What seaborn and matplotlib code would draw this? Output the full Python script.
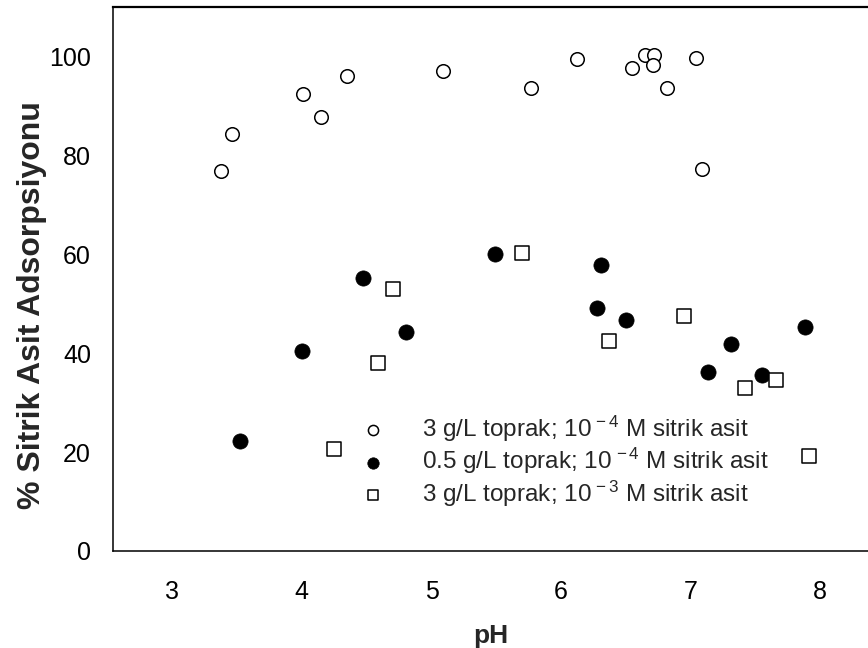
import matplotlib
matplotlib.use("Agg")
import matplotlib.pyplot as plt
import seaborn as sns
import pandas as pd

# 3 g/L toprak; 1e-4 M sitrik asit (open circles)
ph_a = [3.38, 3.46, 4.01, 4.15, 4.35, 5.09, 5.77, 6.12, 6.545, 6.65, 6.72, 6.71, 6.82, 7.04, 7.09]
ads_a = [76.7, 84.2, 92.4, 87.7, 95.9, 97.0, 93.5, 99.4, 97.6, 100.3, 100.3, 98.3, 93.5, 99.7, 77.1]

# 0.5 g/L toprak; 1e-4 M sitrik asit (filled circles)
ph_b = [3.52, 4.00, 4.47, 4.80, 5.49, 6.28, 6.31, 6.50, 7.13, 7.31, 7.55, 7.88]
ads_b = [22.2, 40.5, 55.1, 44.3, 60.1, 49.2, 57.8, 46.6, 36.1, 41.8, 35.6, 45.3]

# 3 g/L toprak; 1e-3 M sitrik asit (open squares)
ph_c = [4.25, 4.59, 4.70, 5.70, 6.37, 6.95, 7.42, 7.66, 7.91]
ads_c = [20.6, 37.9, 52.9, 60.2, 42.5, 47.5, 32.9, 34.5, 19.2]

labels = [
    "3 g/L toprak; 10$^{\\,-4}$ M sitrik asit",
    "0.5 g/L toprak; 10$^{\\,-4}$ M sitrik asit",
    "3 g/L toprak; 10$^{\\,-3}$ M sitrik asit",
]
x_ticks = [3, 4, 5, 6, 7, 8]
y_ticks = [0, 20, 40, 60, 80, 100]

sns.set_style("white")
plt.rcParams["font.family"] = ["Liberation Sans", "DejaVu Sans"]
plt.rcParams["mathtext.fontset"] = "custom"
plt.rcParams["mathtext.rm"] = "Liberation Sans"
plt.rcParams["mathtext.it"] = "Liberation Sans"

fig = plt.figure(figsize=(8.68, 6.48), dpi=100)
ax = fig.add_axes([0.1305, 0.1497, 0.8695, 0.8400])

df_a = pd.DataFrame({"pH": ph_a, "ads": ads_a})
df_b = pd.DataFrame({"pH": ph_b, "ads": ads_b})
df_c = pd.DataFrame({"pH": ph_c, "ads": ads_c})

sns.scatterplot(data=df_a, x="pH", y="ads", ax=ax, marker="o", s=95,
                color="white", edgecolor="black", linewidth=1.1, label=labels[0])
sns.scatterplot(data=df_b, x="pH", y="ads", ax=ax, marker="o", s=120,
                color="black", edgecolor="black", linewidth=0.5, label=labels[1])
sns.scatterplot(data=df_c, x="pH", y="ads", ax=ax, marker="s", s=100,
                color="white", edgecolor="black", linewidth=1.1, label=labels[2])

ax.set_xlim(2.545, 8.368)
ax.set_ylim(0, 110)
ax.set_xticks(x_ticks)
ax.set_yticks(y_ticks)
ax.tick_params(axis="both", direction="out", color="#555555", width=1.0,
               labelsize=18, labelcolor="black")
ax.tick_params(axis="x", length=9.5, pad=11.5)
ax.tick_params(axis="y", length=10, pad=6)

ax.spines["right"].set_visible(False)
ax.spines["top"].set_linewidth(1.6)
ax.spines["left"].set_linewidth(1.1)
ax.spines["bottom"].set_linewidth(1.1)
for s in ["top", "left", "bottom"]:
    ax.spines[s].set_color("black")

ax.set_xlabel("pH", fontsize=19, fontweight="bold", labelpad=14)
ax.set_ylabel("% Sitrik Asit Adsorpsiyonu", fontsize=23, fontweight="bold")
ax.yaxis.set_label_coords(-0.088, 0.452)

leg = ax.legend(loc="upper left", bbox_to_anchor=(0.4017, 0.362),
                bbox_transform=fig.transFigure, frameon=False, fontsize=17.5,
                handlelength=2.0, handletextpad=1.0, labelspacing=0.1,
                borderpad=0, borderaxespad=0, markerscale=0.75)

fig.savefig("out.png", dpi=100)
